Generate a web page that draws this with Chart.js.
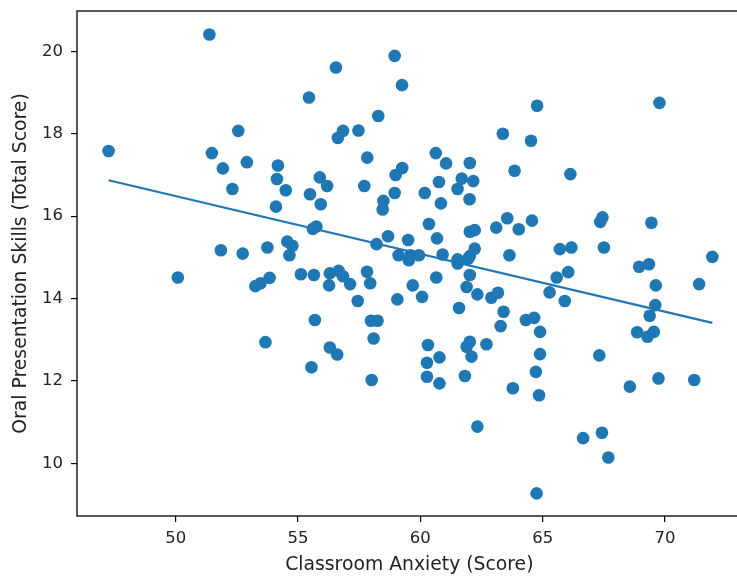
<!DOCTYPE html>
<html>
<head>
<meta charset="utf-8">
<script src="https://cdn.jsdelivr.net/npm/chart.js@4.4.1/dist/chart.umd.min.js"></script>
<style>
    html, body { margin: 0; padding: 0; background: #fff; }
    #wrap { width: 737px; height: 576px; overflow: hidden; }
</style>
</head>
<body>
<div id="wrap"><canvas id="scatterChart" width="748" height="576"></canvas></div>
<script>
// values
const anxiety = [
    47.26, 50.09, 51.38, 51.48, 51.93, 51.85, 52.32, 52.56, 52.74, 52.91,
    53.26, 53.47, 53.67, 53.75, 53.84, 54.10, 54.14, 54.18, 54.50, 54.56,
    54.65, 54.77, 55.12, 55.45, 55.49, 55.55, 55.61, 55.75, 55.65, 55.69,
    55.89, 55.93, 56.19, 56.27, 56.30, 56.30, 56.55, 56.60, 56.63, 56.66,
    56.84, 56.84, 57.13, 57.44, 57.47, 57.71, 57.82, 57.83, 57.95, 57.98,
    58.01, 58.09, 58.21, 58.25, 58.28, 58.46, 58.49, 58.68, 58.95, 58.95,
    58.99, 59.06, 59.11, 59.25, 59.26, 59.50, 59.53, 59.60, 59.69, 59.94,
    60.07, 60.18, 60.27, 60.27, 60.31, 60.35, 60.63, 60.65, 60.68, 60.76,
    60.78, 60.78, 60.84, 60.91, 61.05, 61.52, 61.52, 61.52, 61.58, 61.69,
    61.82, 61.89, 61.89, 61.96, 62.01, 62.02, 62.02, 62.02, 62.02, 62.02,
    62.09, 62.16, 62.22, 62.22, 62.33, 62.33, 62.70, 62.90, 63.10, 63.17,
    63.28, 63.37, 63.40, 63.55, 63.64, 63.78, 63.85, 64.02, 64.31, 64.52,
    64.56, 64.65, 64.72, 64.75, 64.77, 64.85, 64.89, 64.89, 65.28, 65.57,
    65.70, 65.90, 66.04, 66.13, 66.17, 66.65, 67.31, 67.35, 67.42, 67.44,
    67.50, 67.68, 68.56, 68.86, 68.94, 69.28, 69.34, 69.37, 69.44, 69.54,
    69.60, 69.62, 69.73, 69.77, 71.19, 71.39, 71.93
];
const oralSkills = [
    17.58, 14.51, 20.41, 17.53, 17.16, 15.17, 16.66, 18.07, 15.09, 17.31,
    14.30, 14.37, 12.94, 15.24, 14.50, 16.23, 16.90, 17.23, 16.63, 15.38,
    15.05, 15.28, 14.59, 18.88, 16.53, 12.33, 15.69, 15.75, 14.57, 13.48,
    16.94, 16.29, 16.73, 14.32, 14.61, 12.81, 19.61, 12.64, 17.90, 14.67,
    18.07, 14.54, 14.35, 13.94, 18.08, 16.73, 14.65, 17.42, 14.37, 13.46,
    12.02, 13.03, 15.32, 13.46, 18.43, 16.16, 16.37, 15.51, 19.89, 16.56,
    17.00, 13.98, 15.05, 19.18, 17.17, 15.42, 14.93, 15.05, 14.32, 15.05,
    14.04, 16.56, 12.44, 12.10, 12.87, 15.81, 17.53, 14.51, 15.46, 16.83,
    12.57, 11.94, 16.31, 15.07, 17.28, 16.66, 14.95, 14.85, 13.77, 16.91,
    12.12, 14.28, 12.83, 14.97, 16.41, 17.29, 15.62, 15.03, 14.57, 12.95,
    12.59, 16.85, 15.66, 15.21, 14.10, 10.89, 12.89, 14.02, 15.72, 14.14,
    13.33, 18.00, 13.68, 15.95, 15.05, 11.82, 17.10, 15.68, 13.48, 17.83,
    15.89, 13.53, 12.22, 9.27, 18.68, 11.65, 13.19, 12.65, 14.15, 14.51,
    15.20, 13.94, 14.64, 17.02, 15.24, 10.61, 12.62, 15.86, 10.74, 15.97,
    15.24, 10.14, 11.86, 13.18, 14.77, 13.07, 14.83, 13.58, 15.84, 13.19,
    13.84, 14.32, 12.06, 18.75, 12.02, 14.35, 15.01
];
// fitted line, end points
const trendX = [47.26, 71.93];
const trendY = [16.87, 13.41];

const xTicks = [50, 55, 60, 65, 70];
const yTicks = [10, 12, 14, 16, 18, 20];

const blue = '#1f77b4';
const tickFont = {family: 'DejaVu Sans', size: 16.5};
const titleFont = {family: 'DejaVu Sans', size: 18.8};

const framePlugin = {
    id: 'frame',
    afterDatasetsDraw(chart){
        const {ctx, chartArea: a} = chart;
        ctx.save();
        ctx.strokeStyle = '#000';
        ctx.lineWidth = 1.3;
        ctx.strokeRect(a.left, a.top, a.right - a.left, a.bottom - a.top);
        ctx.restore();
    }
};

const points = anxiety.map((x, i) => ({x: x, y: oralSkills[i]}));
const trend = trendX.map((x, i) => ({x: x, y: trendY[i]}));

new Chart(document.getElementById('scatterChart').getContext('2d'), {
    type: 'scatter',
    data: {
        datasets: [
            {
                data: points,
                backgroundColor: blue,
                borderWidth: 0,
                pointRadius: 6.3,
                pointHoverRadius: 6.3
            },
            {
                type: 'line',
                data: trend,
                borderColor: blue,
                borderWidth: 2.2,
                pointRadius: 0,
                fill: false
            }
        ]
    },
    plugins: [framePlugin],
    options: {
        responsive: false,
        animation: false,
        devicePixelRatio: 1,
        layout: {padding: {top: 11, right: 1, left: 0, bottom: 0}},
        plugins: {legend: {display: false}, tooltip: {enabled: false}},
        scales: {
            x: {
                type: 'linear',
                min: 45.97,
                max: 73.13,
                afterBuildTicks: (s) => { s.ticks = xTicks.map(v => ({value: v})); },
                afterFit: (s) => { s.height = 60; s.paddingLeft = 0; s.paddingRight = 0; },
                border: {display: false},
                grid: {drawOnChartArea: false, drawTicks: true, tickLength: 6, color: '#000', lineWidth: 1.2},
                ticks: {font: tickFont, color: '#222', padding: 7, maxRotation: 0},
                title: {display: true, text: 'Classroom Anxiety (Score)', font: titleFont, color: '#222', padding: {top: 0, bottom: 0}}
            },
            y: {
                type: 'linear',
                min: 8.72,
                max: 20.98,
                afterBuildTicks: (s) => { s.ticks = yTicks.map(v => ({value: v})); },
                afterFit: (s) => { s.width = 77; s.paddingTop = 0; s.paddingBottom = 0; },
                border: {display: false},
                grid: {drawOnChartArea: false, drawTicks: true, tickLength: 6, color: '#000', lineWidth: 1.2},
                ticks: {font: tickFont, color: '#222', padding: 8},
                title: {display: true, text: 'Oral Presentation Skills (Total Score)', font: titleFont, color: '#222', padding: {top: 10, bottom: 0}}
            }
        }
    }
});
</script>
</body>
</html>
